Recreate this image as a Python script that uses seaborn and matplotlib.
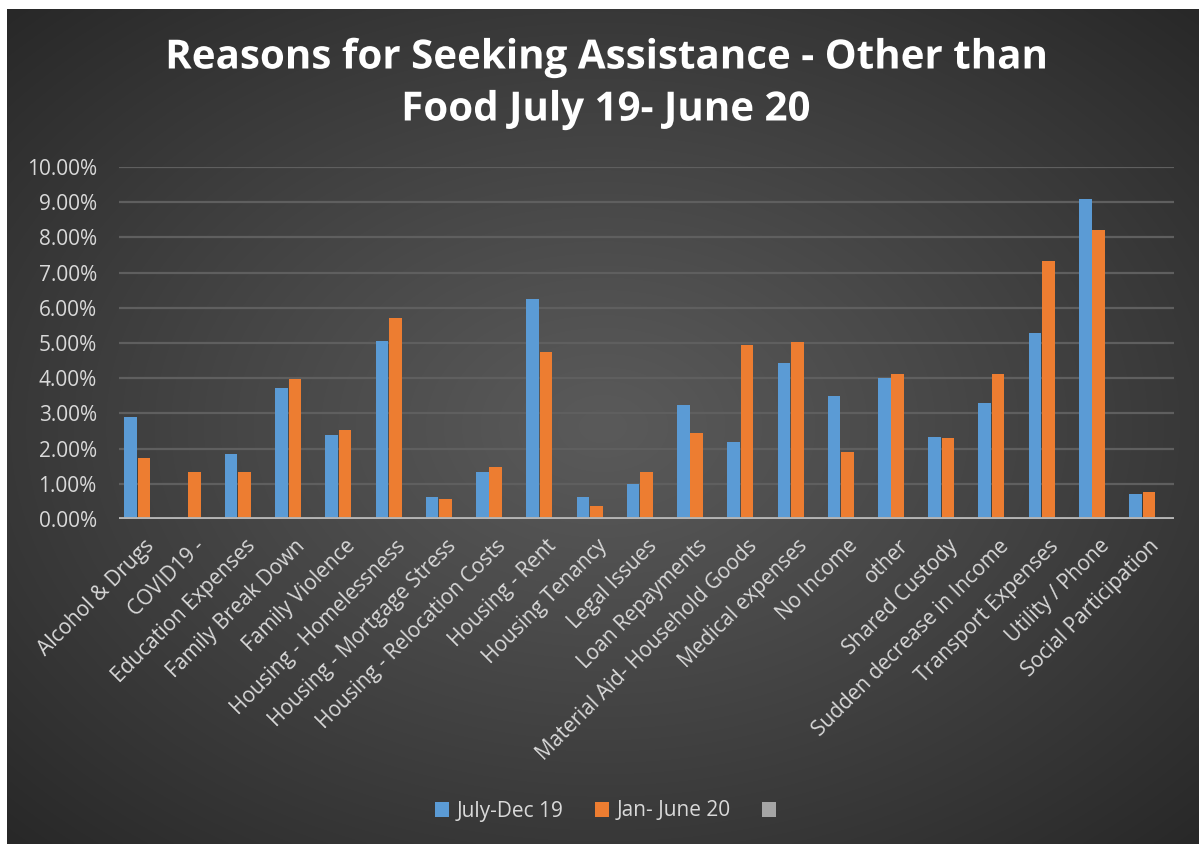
import numpy as np
import pandas as pd
import matplotlib
matplotlib.use("Agg")
import matplotlib.pyplot as plt
import matplotlib.patheffects as pe
from matplotlib.patches import Patch
from matplotlib.ticker import PercentFormatter, MultipleLocator
import seaborn as sns

# ---------------- data ----------------
categories = [
    "Alcohol & Drugs", "COVID19 -", "Education Expenses", "Family Break Down",
    "Family Violence", "Housing - Homelessness", "Housing - Mortgage Stress",
    "Housing - Relocation Costs", "Housing - Rent", "Housing Tenancy",
    "Legal Issues", "Loan Repayments", "Material Aid- Household Goods",
    "Medical expenses", "No Income", "other", "Shared Custody",
    "Sudden decrease in Income", "Transport Expenses", "Utility / Phone",
    "Social Participation",
]
july_dec_19 = [0.0290, 0.0000, 0.0185, 0.0372, 0.0239, 0.0506, 0.0063,
               0.0134, 0.0625, 0.0063, 0.0100, 0.0324, 0.0219, 0.0443,
               0.0350, 0.0401, 0.0233, 0.0330, 0.0528, 0.0908, 0.0072]
jan_june_20 = [0.0174, 0.0134, 0.0134, 0.0398, 0.0253, 0.0571, 0.0058,
               0.0148, 0.0474, 0.0038, 0.0134, 0.0245, 0.0494, 0.0503,
               0.0191, 0.0412, 0.0231, 0.0412, 0.0733, 0.0820, 0.0078]
series3 = [np.nan] * len(categories)
series_names = ["July-Dec 19", "Jan- June 20", "Series3"]
legend_labels = ["July-Dec 19", "Jan- June 20", ""]
title_lines = ["Reasons for Seeking Assistance - Other than", "Food July 19- June 20"]

df = pd.DataFrame({
    "Reason": categories * 3,
    "Series": [series_names[0]] * len(categories)
              + [series_names[1]] * len(categories)
              + [series_names[2]] * len(categories),
    "Share": july_dec_19 + jan_june_20 + series3,
})

# ---------------- style ----------------
BLUE, ORANGE, GRAY = "#5b9bd5", "#ed7d31", "#a5a5a5"
TXT = "#d9d9d9"
plt.rcParams["font.family"] = ["Open Sans", "DejaVu Sans"]

W, H = 1199, 844
fig = plt.figure(figsize=(W / 100, H / 100), dpi=100, facecolor="white")

# background panel with radial gradient
bg = fig.add_axes([7 / W, 0, 1 - 7 / W, 1 - 9 / H], zorder=-5)
yy, xx = np.mgrid[0:1:400j, 0:1:600j]
r = np.sqrt(((xx - 0.5) / 0.5) ** 2 + ((yy - 0.5) / 0.5) ** 2) / np.sqrt(2)
val = (0x5a - (0x5a - 0x28) * np.clip(r, 0, 1) ** 1.1) / 255.0
img = np.dstack([val, val, val])
bg.imshow(img, aspect="auto", extent=[0, 1, 0, 1], interpolation="bilinear")
bg.set_axis_off()

ax = fig.add_axes([119 / W, 1 - 519 / H, (1174 - 119) / W, (519 - 167) / H])
ax.set_facecolor("none")

sns.barplot(data=df, x="Reason", y="Share", hue="Series",
            order=categories, hue_order=series_names,
            palette=[BLUE, ORANGE, GRAY], saturation=1, width=0.8, gap=0.06,
            legend=False, ax=ax, zorder=3)

ax.set_ylim(0, 0.10)
ax.set_xlim(-0.5, len(categories) - 0.5)
ax.yaxis.set_major_locator(MultipleLocator(0.01))
ax.yaxis.set_major_formatter(PercentFormatter(1.0, decimals=2))
ax.grid(axis="y", color="#5f5f5f", lw=1.6, zorder=0)
ax.grid(axis="x", visible=False)
ax.set_axisbelow(True)
ax.axhline(0, color="#b4b4b4", lw=2.8, zorder=4)
for s in ax.spines.values():
    s.set_visible(False)
ax.set_xlabel("")
ax.set_ylabel("")
ax.tick_params(axis="y", length=0, pad=16, labelsize=15, labelcolor=TXT)
ax.tick_params(axis="x", length=0, pad=12, labelsize=15, labelcolor=TXT)
plt.setp(ax.get_xticklabels(), rotation=45, ha="right", va="top",
         rotation_mode="anchor")

# title
for txt, y in zip(title_lines, [58, 110]):
    fig.text(0.505, 1 - y / H, txt, ha="center", va="center", color="white",
             fontsize=29, fontweight="bold",
             path_effects=[pe.SimpleLineShadow(offset=(2, -2), shadow_color="black", alpha=0.5),
                           pe.Normal()])

# legend
handles = [Patch(facecolor=c, edgecolor="none") for c in [BLUE, ORANGE, GRAY]]
fig.legend(handles, legend_labels, loc="center", bbox_to_anchor=(0.508, 1 - 811 / H),
           ncol=3, frameon=False, fontsize=15, labelcolor=TXT,
           handlelength=0.7, handleheight=0.7, handletextpad=0.35,
           columnspacing=1.5)

fig.savefig("out.png", dpi=100, facecolor=fig.get_facecolor())
